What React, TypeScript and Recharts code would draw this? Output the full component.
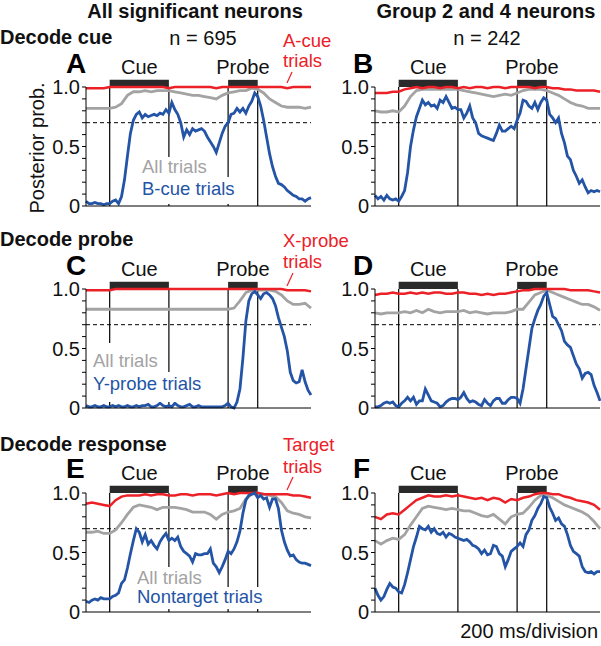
import React from "react";
import { LineChart, Line, XAxis, YAxis, ReferenceLine, ReferenceArea } from "recharts";

const FONT = '"Liberation Sans", Arial, Helvetica, sans-serif';
const RED = "#ec2027";
const GRAY = "#a3a3a3";
const BLUE = "#2454a6";

// time bins, ms from cue onset (blue traces every 50 ms, red/gray every 100 ms)
const fineTimes = Array.from({ length: 77 }, (_, i) => -400 + i * 50);
const coarseTimes = Array.from({ length: 39 }, (_, i) => -400 + i * 100);
const xTicks = Array.from({ length: 20 }, (_, i) => -400 + i * 200);
const yTicks = [0, 0.1, 0.2, 0.3, 0.4, 0.5, 0.6, 0.7, 0.8, 0.9, 1];
const eventTimes = [0, 1000, 2000, 2500];

// ---- A: decode cue, all neurons
const aRed = [
  0.99, 0.99, 0.99, 0.99, 1, 1, 1, 1, 1, 1,
  1, 1, 1, 1, 0.99, 1, 1, 1, 1, 1,
  1, 1, 0.99, 1, 1, 1, 1, 1, 1, 1,
  1, 1, 1, 1, 0.99, 1, 1, 1, 1,
];
const aGray = [
  0.82, 0.82, 0.82, 0.82, 0.82, 0.83, 0.86, 0.93, 0.96, 0.96,
  0.97, 0.96, 0.97, 0.97, 0.97, 0.96, 0.95, 0.94, 0.93, 0.93,
  0.92, 0.91, 0.9, 0.93, 0.95, 0.96, 0.97, 0.97, 0.99, 0.98,
  0.95, 0.9, 0.87, 0.84, 0.83, 0.83, 0.83, 0.82, 0.83,
];
const aBlue = [
  0.04, 0.02, 0.02, 0.03, 0.02, 0.02, 0.01, 0.02, 0.02, 0.04,
  0.05, 0.02, 0.08, 0.22, 0.42, 0.61, 0.72, 0.77, 0.79, 0.74,
  0.77, 0.75, 0.76, 0.77, 0.76, 0.78, 0.77, 0.81, 0.78, 0.87,
  0.81, 0.77, 0.7, 0.58, 0.64, 0.6, 0.65, 0.63, 0.64, 0.65,
  0.63, 0.58, 0.54, 0.5, 0.45, 0.53, 0.61, 0.67, 0.7, 0.77,
  0.78, 0.82, 0.79, 0.82, 0.78, 0.84, 0.88, 0.95, 0.92, 0.84,
  0.72, 0.58, 0.44, 0.33, 0.25, 0.19, 0.18, 0.16, 0.13, 0.11,
  0.09, 0.08, 0.06, 0.06, 0.04, 0.06, 0.07,
];

// ---- B: decode cue, group 2 and 4
const bRed = [
  0.95, 0.95, 0.95, 0.96, 0.96, 0.98, 0.99, 1, 0.99, 1,
  1, 0.99, 1, 1, 0.99, 1, 0.99, 1, 1, 0.99,
  1, 1, 0.99, 1, 1, 1, 1, 0.99, 1, 1,
  0.99, 0.99, 0.98, 0.98, 0.97, 0.97, 0.97, 0.97, 0.96,
];
const bGray = [
  0.8, 0.79, 0.79, 0.8, 0.79, 0.84, 0.92, 0.97, 0.98, 0.98,
  0.98, 0.98, 0.98, 0.98, 0.98, 0.97, 0.96, 0.95, 0.94, 0.93,
  0.92, 0.93, 0.94, 0.93, 0.95, 0.97, 0.98, 0.98, 0.98, 0.97,
  0.95, 0.93, 0.9, 0.87, 0.85, 0.84, 0.82, 0.82, 0.82,
];
const bBlue = [
  0.09, 0.06, 0.08, 0.05, 0.09, 0.06, 0.05, 0.06, 0.04, 0.08,
  0.13, 0.28, 0.5, 0.64, 0.75, 0.82, 0.89, 0.85, 0.87, 0.84,
  0.85, 0.82, 0.89, 0.87, 0.92, 0.87, 0.82, 0.83, 0.81, 0.81,
  0.74, 0.78, 0.84, 0.74, 0.7, 0.61, 0.59, 0.58, 0.57, 0.56,
  0.55, 0.61, 0.68, 0.63, 0.63, 0.65, 0.67, 0.65, 0.72, 0.78,
  0.89, 0.88, 0.84, 0.82, 0.87, 0.81, 0.87, 0.91, 0.89, 0.77,
  0.74, 0.7, 0.74, 0.61, 0.53, 0.42, 0.39, 0.3, 0.25, 0.19,
  0.22, 0.16, 0.11, 0.13, 0.12, 0.13, 0.12,
];

// ---- C: decode probe, all neurons
const cRed = [
  0.99, 0.99, 0.99, 0.99, 0.99, 1, 1, 1, 1, 1,
  1, 1, 1, 1, 1, 1, 1, 1, 1, 1,
  1, 1, 1, 1, 1, 1, 1, 1, 1, 1,
  1, 1, 1, 1, 0.99, 0.99, 0.99, 0.99, 0.98,
];
const cGray = [
  0.83, 0.83, 0.83, 0.83, 0.83, 0.83, 0.83, 0.83, 0.83, 0.83,
  0.83, 0.83, 0.83, 0.83, 0.83, 0.83, 0.83, 0.83, 0.83, 0.83,
  0.83, 0.83, 0.83, 0.83, 0.83, 0.84, 0.9, 0.97, 0.99, 0.99,
  0.99, 0.99, 0.98, 0.95, 0.9, 0.87, 0.87, 0.88, 0.84,
];
const cBlue = [
  0.02, 0.01, 0.01, 0.02, 0.01, 0.01, 0.02, 0.01, 0.01, 0.02,
  0.01, 0.02, 0.01, 0.01, 0.02, 0.01, 0.01, 0.02, 0.01, 0.02,
  0.02, 0.03, 0.01, 0.01, 0.02, 0.04, 0.02, 0.01, 0.02, 0.01,
  0.04, 0.02, 0.01, 0.01, 0.02, 0.03, 0.01, 0.01, 0.02, 0.01,
  0.01, 0.01, 0.01, 0.01, 0.01, 0.01, 0.01, 0.02, 0.04, 0.01,
  0.0, 0.05, 0.16, 0.42, 0.73, 0.9, 0.96, 0.98, 0.95, 0.92,
  0.96, 0.97, 0.95, 0.92, 0.86, 0.76, 0.68, 0.6, 0.48, 0.3,
  0.23, 0.21, 0.22, 0.32, 0.22, 0.15, 0.11,
];

// ---- D: decode probe, group 2 and 4
const dRed = [
  0.95, 0.96, 0.96, 0.97, 0.96, 0.96, 0.97, 0.96, 0.97, 0.96,
  0.97, 0.97, 0.96, 0.96, 0.97, 0.97, 0.96, 0.96, 0.95, 0.96,
  0.95, 0.96, 0.96, 0.97, 0.98, 0.99, 0.99, 1, 1, 1,
  1, 1, 1, 0.99, 0.99, 0.99, 0.99, 0.98, 0.97,
];
const dGray = [
  0.8, 0.79, 0.8, 0.8, 0.8, 0.81, 0.8, 0.82, 0.8, 0.83,
  0.81, 0.8, 0.81, 0.81, 0.81, 0.82, 0.8, 0.81, 0.8, 0.79,
  0.8, 0.8, 0.8, 0.81, 0.83, 0.83, 0.89, 0.95, 0.97, 0.99,
  0.97, 0.95, 0.93, 0.91, 0.89, 0.87, 0.87, 0.85, 0.82,
];
const dBlue = [
  0.01, 0.01, 0.02, 0.04, 0.05, 0.04, 0.05, 0.02, 0.01, 0.04,
  0.06, 0.09, 0.06, 0.09, 0.03, 0.06, 0.06, 0.16, 0.11, 0.06,
  0.05, 0.04, 0.01, 0.02, 0.05, 0.07, 0.08, 0.08, 0.07, 0.09,
  0.13, 0.08, 0.05, 0.06, 0.05, 0.03, 0.02, 0.07, 0.04, 0.02,
  0.06, 0.08, 0.08, 0.04, 0.04, 0.07, 0.09, 0.09, 0.08, 0.04,
  0.16, 0.33, 0.5, 0.67, 0.75, 0.82, 0.87, 0.94, 0.97, 0.87,
  0.77, 0.75, 0.7, 0.65, 0.56, 0.53, 0.51, 0.44, 0.37, 0.33,
  0.25, 0.29, 0.3, 0.28, 0.19, 0.13, 0.06,
];

// ---- E: decode response, all neurons
const eRed = [
  0.91, 0.92, 0.91, 0.9, 0.89, 0.94, 0.97, 0.98, 0.98, 0.98,
  0.99, 0.98, 0.99, 0.99, 0.98, 0.98, 0.99, 0.99, 0.98, 0.99,
  0.99, 0.99, 0.98, 0.99, 1, 0.99, 1, 1, 1, 1,
  0.99, 0.99, 0.99, 0.99, 0.99, 0.98, 0.98, 0.97, 0.96,
];
const eGray = [
  0.67, 0.67, 0.68, 0.66, 0.66, 0.69, 0.75, 0.82, 0.88, 0.9,
  0.89, 0.88, 0.86, 0.88, 0.88, 0.88, 0.87, 0.86, 0.84, 0.84,
  0.84, 0.82, 0.78, 0.82, 0.84, 0.85, 0.87, 0.95, 0.99, 1,
  0.99, 0.98, 0.97, 0.92, 0.85, 0.83, 0.82, 0.8, 0.79,
];
const eBlue = [
  0.09, 0.08, 0.1, 0.11, 0.1, 0.12, 0.11, 0.11, 0.11, 0.13,
  0.14, 0.16, 0.24, 0.27, 0.37, 0.49, 0.6, 0.7, 0.67, 0.59,
  0.65, 0.57, 0.6, 0.56, 0.53, 0.59, 0.63, 0.66, 0.6, 0.62,
  0.6, 0.63, 0.55, 0.51, 0.49, 0.47, 0.42, 0.49, 0.48, 0.48,
  0.49, 0.49, 0.53, 0.41, 0.38, 0.33, 0.38, 0.44, 0.51, 0.49,
  0.53, 0.59, 0.68, 0.83, 0.94, 0.98, 0.99, 1, 0.96, 0.98,
  0.95, 0.96, 0.88, 0.95, 0.95, 0.87, 0.69, 0.59, 0.52, 0.47,
  0.48, 0.44, 0.42, 0.41, 0.41, 0.4, 0.39,
];

// ---- F: decode response, group 2 and 4
const fRed = [
  0.8, 0.78, 0.82, 0.83, 0.82, 0.86, 0.9, 0.94, 0.96, 0.98,
  0.97, 0.97, 0.98, 0.97, 0.98, 0.97, 0.96, 0.95, 0.96, 0.94,
  0.96, 0.95, 0.92, 0.95, 0.94, 0.96, 0.97, 0.99, 1, 1,
  0.99, 0.99, 0.97, 0.96, 0.94, 0.93, 0.92, 0.9, 0.86,
];
const fGray = [
  0.6, 0.57, 0.6, 0.62, 0.61, 0.65, 0.73, 0.8, 0.87, 0.89,
  0.88, 0.87, 0.86, 0.87, 0.86, 0.85, 0.85, 0.83, 0.81, 0.8,
  0.82, 0.78, 0.74, 0.8, 0.82, 0.83, 0.88, 0.94, 0.98, 0.98,
  0.96, 0.93, 0.9, 0.88, 0.86, 0.84, 0.81, 0.76, 0.7,
];
const fBlue = [
  0.2, 0.14, 0.1, 0.13, 0.19, 0.24, 0.21, 0.2, 0.17, 0.16,
  0.23, 0.33, 0.44, 0.55, 0.63, 0.72, 0.7, 0.69, 0.72, 0.67,
  0.7, 0.66, 0.65, 0.67, 0.63, 0.66, 0.65, 0.63, 0.62, 0.61,
  0.6, 0.61, 0.59, 0.56, 0.55, 0.53, 0.49, 0.52, 0.48, 0.49,
  0.56, 0.55, 0.49, 0.47, 0.38, 0.44, 0.51, 0.53, 0.55, 0.58,
  0.55, 0.65, 0.69, 0.77, 0.81, 0.87, 0.91, 0.97, 0.96, 0.88,
  0.83, 0.77, 0.79, 0.74, 0.72, 0.65, 0.56, 0.51, 0.49, 0.47,
  0.38, 0.34, 0.33, 0.34, 0.32, 0.34, 0.34,
];

// layout (plot area origin of each panel)
const COLS = [86, 375];
const ROWS = [87, 289, 493];
const PW = 225;
const PH = 119;
const YW = 50;
const MT = 40;
const XH = 14;

const panels = [
  { col: 0, row: 0, red: aRed, gray: aGray, blue: aBlue },
  { col: 1, row: 0, red: bRed, gray: bGray, blue: bBlue },
  { col: 0, row: 1, red: cRed, gray: cGray, blue: cBlue },
  { col: 1, row: 1, red: dRed, gray: dGray, blue: dBlue },
  { col: 0, row: 2, red: eRed, gray: eGray, blue: eBlue },
  { col: 1, row: 2, red: fRed, gray: fGray, blue: fBlue },
];

const YTick = (props: any) => {
  const { x, y, payload } = props;
  const v = payload.value;
  const lab = v === 1 ? "1.0" : v === 0.5 ? "0.5" : v === 0 ? "0" : null;
  if (!lab) return <g />;
  return (
    <text x={x} y={y} dy={7} textAnchor="end" fontSize={20} fill="#111" fontFamily={FONT}>
      {lab}
    </text>
  );
};

const barLabel = (value: string) => ({
  value,
  position: "top" as const,
  offset: 6,
  fontSize: 20,
  fill: "#111",
  fontFamily: FONT,
});

function Panel({ col, row, red, gray, blue }: any) {
  const redData = coarseTimes.map((t, i) => ({ t, v: red[i] }));
  const grayData = coarseTimes.map((t, i) => ({ t, v: gray[i] }));
  const blueData = fineTimes.map((t, i) => ({ t, v: blue[i] }));
  return (
    <div style={{ position: "absolute", left: COLS[col] - YW, top: ROWS[row] - MT }}>
      <LineChart width={YW + PW + 2} height={MT + PH + XH} margin={{ top: MT, right: 2, bottom: 0, left: 0 }}>
        <XAxis
          type="number"
          dataKey="t"
          domain={[-400, 3400]}
          ticks={xTicks}
          interval={0}
          tick={false}
          tickSize={4}
          height={XH}
          stroke="#000"
        />
        <YAxis
          type="number"
          domain={[0, 1]}
          ticks={yTicks}
          interval={0}
          tick={<YTick />}
          tickSize={4}
          width={YW}
          stroke="#000"
        />
        <ReferenceArea x1={0} x2={1000} y1={1} y2={1.06} ifOverflow="visible" fill="#2a2a2a" fillOpacity={1} stroke="none" label={barLabel("Cue")} />
        <ReferenceArea x1={2000} x2={2500} y1={1} y2={1.06} ifOverflow="visible" fill="#2a2a2a" fillOpacity={1} stroke="none" label={barLabel("Probe")} />
        {eventTimes.map((e) => (
          <ReferenceLine key={e} x={e} stroke="#000" strokeWidth={1.2} />
        ))}
        <ReferenceLine y={0.7} stroke="#000" strokeWidth={1} strokeDasharray="4 3" />
        <Line data={grayData} dataKey="v" type="linear" stroke={GRAY} strokeWidth={2.8} dot={false} isAnimationActive={false} />
        <Line data={redData} dataKey="v" type="linear" stroke={RED} strokeWidth={2.5} dot={false} isAnimationActive={false} />
        <Line data={blueData} dataKey="v" type="linear" stroke={BLUE} strokeWidth={2.8} dot={false} isAnimationActive={false} />
      </LineChart>
    </div>
  );
}

export default function App() {
  return (
    <div style={{ position: "absolute", left: 0, top: 0, width: 601, height: 646, background: "#fff", fontFamily: FONT }}>
      {panels.map((p, i) => (
        <Panel key={i} {...p} />
      ))}
      <svg width={601} height={646} style={{ position: "absolute", left: 0, top: 0, pointerEvents: "none" }} fontFamily={FONT}>
        {/* column titles */}
        <text x={195} y={18} textAnchor="middle" fontSize={20} fontWeight="bold" fill="#111">All significant neurons</text>
        <text x={486} y={18} textAnchor="middle" fontSize={20} fontWeight="bold" fill="#111">Group 2 and 4 neurons</text>
        <text x={203} y={45} textAnchor="middle" fontSize={20} fill="#111">n = 695</text>
        <text x={487} y={45} textAnchor="middle" fontSize={20} fill="#111">n = 242</text>

        {/* row headings */}
        <text x={0} y={44} fontSize={20} fontWeight="bold" fill="#111">Decode cue</text>
        <text x={0} y={246} fontSize={20} fontWeight="bold" fill="#111">Decode probe</text>
        <text x={0} y={451} fontSize={20} fontWeight="bold" fill="#111">Decode response</text>

        {/* panel letters */}
        <text x={66} y={73} fontSize={28} fontWeight="bold">A</text>
        <text x={353} y={73} fontSize={28} fontWeight="bold">B</text>
        <text x={66} y={275} fontSize={28} fontWeight="bold">C</text>
        <text x={353} y={275} fontSize={28} fontWeight="bold">D</text>
        <text x={66} y={478} fontSize={28} fontWeight="bold">E</text>
        <text x={353} y={478} fontSize={28} fontWeight="bold">F</text>

        {/* red series labels */}
        <text x={283} y={47} fontSize={18.5} fill={RED}>A-cue</text>
        <text x={283} y={67} fontSize={18.5} fill={RED}>trials</text>
        <line x1={292} y1={72} x2={287} y2={83} stroke={RED} strokeWidth={1.2} />
        <text x={283} y={247} fontSize={18.5} fill={RED}>X-probe</text>
        <text x={283} y={268} fontSize={18.5} fill={RED}>trials</text>
        <line x1={293} y1={273} x2={287} y2={286} stroke={RED} strokeWidth={1.2} />
        <text x={283} y={451} fontSize={18.5} fill={RED}>Target</text>
        <text x={283} y={473} fontSize={18.5} fill={RED}>trials</text>
        <line x1={293} y1={477} x2={287} y2={490} stroke={RED} strokeWidth={1.2} />

        {/* gray / blue labels with white boxes */}
        <rect x={140} y={157} width={70} height={21} fill="#fff" />
        <rect x={140} y={177} width={97} height={27} fill="#fff" />
        <text x={142} y={173} fontSize={18.5} fill={GRAY}>All trials</text>
        <text x={142} y={195} fontSize={18.5} fill={BLUE}>B-cue trials</text>

        <rect x={91} y={343} width={70} height={29} fill="#fff" />
        <rect x={91} y={372} width={115} height={30} fill="#fff" />
        <text x={93} y={367} fontSize={18.5} fill={GRAY}>All trials</text>
        <text x={93} y={390} fontSize={18.5} fill={BLUE}>Y-probe trials</text>

        <rect x={135} y={567} width={68} height={21} fill="#fff" />
        <rect x={135} y={587} width={130} height={22} fill="#fff" />
        <text x={137} y={584} fontSize={18.5} fill={GRAY}>All trials</text>
        <text x={137} y={603} fontSize={18.5} fill={BLUE}>Nontarget trials</text>

        {/* y label and time scale */}
        <text transform="translate(44,148) rotate(-90)" textAnchor="middle" fontSize={20} fill="#111">Posterior prob.</text>
        <text x={598} y={638} textAnchor="end" fontSize={20} fill="#111">200 ms/division</text>
      </svg>
    </div>
  );
}
